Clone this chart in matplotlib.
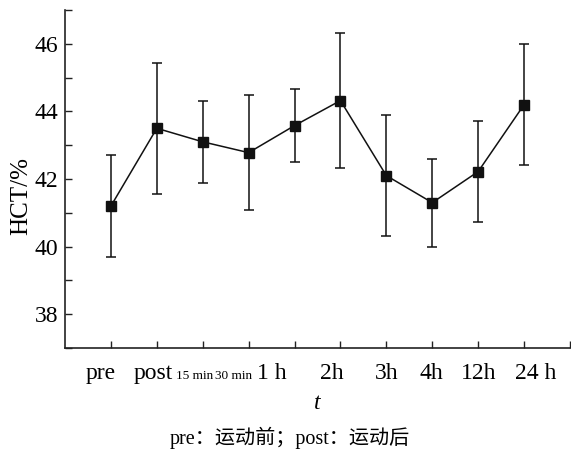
#!/usr/bin/env python3

import matplotlib
matplotlib.use('Agg')
import matplotlib.pyplot as plt
import matplotlib.transforms as mtransforms
from matplotlib.ticker import MultipleLocator

# HCT over time, mean and SD
time_labels = ['pre', 'post', '15 min', '30 min', '1 h', '2h', '3h', '4h', '12h', '24 h']
hct_mean = [41.2, 43.5, 43.1, 42.78, 43.58, 44.32, 42.1, 41.3, 42.22, 44.2]
hct_sd = [1.5, 1.93, 1.21, 1.71, 1.09, 2.0, 1.8, 1.3, 1.49, 1.8]

caption = 'pre：运动前；post：运动后'

plt.rcParams['font.family'] = ['Liberation Serif', 'Noto Sans CJK SC']

fig = plt.figure(figsize=(5.71, 4.5), dpi=100)
ax = fig.add_axes([65/571, 1-348/450, 505/571, 338/450])

ink = '#111111'
xs = list(range(1, len(hct_mean)+1))
ax.errorbar(xs, hct_mean, yerr=hct_sd, color=ink, lw=1.1, elinewidth=1.1,
            capsize=3.5, capthick=1.1, marker='s', markersize=7.5,
            markerfacecolor=ink, markeredgecolor=ink)

ax.set_xlim(0, 11)
ax.set_ylim(37, 47)
ax.set_xticks(list(range(1, 12)))
ax.set_xticklabels(time_labels + [''])
ax.yaxis.set_major_locator(MultipleLocator(2))
ax.yaxis.set_minor_locator(MultipleLocator(1))
ax.set_yticks([38, 40, 42, 44, 46])

ax.spines['top'].set_visible(False)
ax.spines['right'].set_visible(False)
for s in ('left', 'bottom'):
    ax.spines[s].set_linewidth(1.2)
    ax.spines[s].set_color('#222222')

ax.tick_params(axis='both', which='both', direction='in', length=5,
               width=1.0, color='#222222')
ax.tick_params(axis='y', labelsize=17, pad=5)
ax.tick_params(axis='x', labelsize=17, pad=11)

# original labels sit a bit off their ticks; nudge them (pixels)
nudges = [-10, -4, -8, -15, -23, -9, 0, -1, 0, 12]
small = {2, 3}
for i, (lbl, dx) in enumerate(zip(ax.get_xticklabels(), nudges)):
    dy = 0
    if i in small:
        lbl.set_fontsize(9.5)
        dy = -0.6*(17-9.5)/72.0*100
    off = mtransforms.ScaledTranslation(dx/100.0, dy/100.0, fig.dpi_scale_trans)
    lbl.set_transform(lbl.get_transform() + off)

ax.set_ylabel('HCT/%', fontsize=18, labelpad=5)
ax.yaxis.set_label_coords(-0.064, 0.45)
ax.set_xlabel('t', fontsize=17, style='italic', labelpad=6)

fig.text(290/571, 1-438/450, caption, ha='center', va='center', fontsize=14.5)

fig.savefig('out.png', dpi=100)
plt.close(fig)
